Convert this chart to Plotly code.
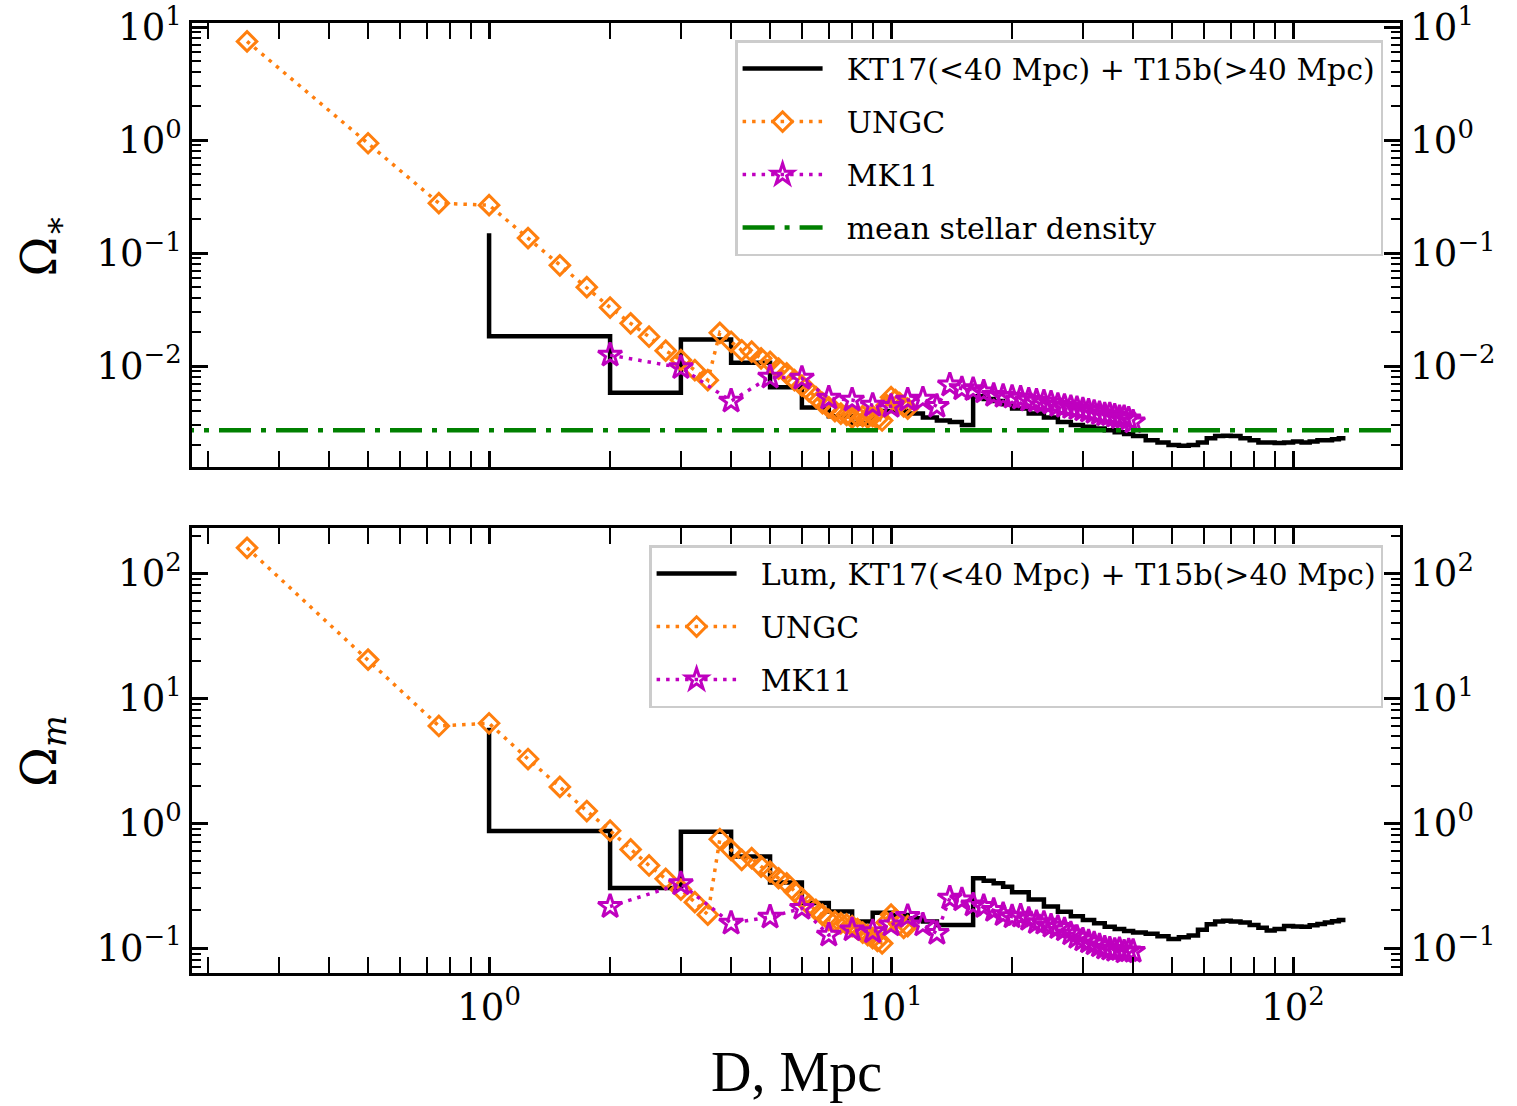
import plotly.graph_objects as go

# ---------------- data ----------------
# UNGC, sampled in distance D [Mpc]
UNGC_D = [0.25, 0.5, 0.75, 1.0, 1.25, 1.5, 1.75, 2.0, 2.25, 2.5, 2.75, 3.0, 3.25, 3.5,
          3.75, 4.0, 4.25, 4.5, 4.75, 5.0, 5.25, 5.5, 5.75, 6.0, 6.25, 6.5, 6.75, 7.0,
          7.25, 7.5, 7.75, 8.0, 8.25, 8.5, 8.75, 9.0, 9.25, 9.5, 9.75, 10.0, 10.25, 10.5,
          10.75, 11.0]
UNGC_OMEGA_STAR = [7.5, 0.94, 0.277, 0.266, 0.136, 0.078, 0.050, 0.033, 0.0239, 0.0182,
                   0.0137, 0.0113, 0.0092, 0.0075,
                   0.0197, 0.0164, 0.0138, 0.0134, 0.0117, 0.0109, 0.0095, 0.0086, 0.0075,
                   0.0067, 0.0060, 0.0053, 0.0047, 0.0043, 0.0040, 0.0038, 0.0037, 0.0035,
                   0.0036, 0.0036, 0.0035, 0.0036, 0.0034, 0.0033, 0.0045, 0.0053, 0.0050,
                   0.0047, 0.0044, 0.0042]
UNGC_OMEGA_M = [160.0, 20.4, 6.0, 6.3, 3.26, 1.95, 1.25, 0.87, 0.616, 0.458, 0.358, 0.294,
                0.233, 0.185,
                0.744, 0.611, 0.508, 0.525, 0.449, 0.409, 0.362, 0.33, 0.283, 0.25, 0.221,
                0.202, 0.184, 0.168, 0.163, 0.158, 0.155, 0.150, 0.142, 0.133, 0.127,
                0.120, 0.114, 0.109, 0.160, 0.185, 0.170, 0.155, 0.145, 0.150]

# MK11, one point per Mpc
MK11_D = [2, 3, 4, 5, 6, 7, 8, 9, 10, 11, 12, 13, 14, 15, 16, 17, 18, 19, 20, 21, 22, 23,
          24, 25, 26, 27, 28, 29, 30, 31, 32, 33, 34, 35, 36, 37, 38, 39, 40]
MK11_OMEGA_STAR = [0.0125, 0.0097, 0.0049, 0.0080, 0.0078, 0.0052, 0.0050, 0.0045, 0.0044,
                   0.0050, 0.0051, 0.0044, 0.0068, 0.0063, 0.0062, 0.0059, 0.0055, 0.0054,
                   0.0053, 0.0052, 0.0050, 0.0049, 0.0048, 0.0047, 0.0045, 0.0044, 0.0043,
                   0.0042, 0.0041, 0.0040, 0.0039, 0.0038, 0.0037, 0.0037, 0.0036, 0.0035,
                   0.0035, 0.0034, 0.0032]
MK11_OMEGA_M = [0.215, 0.327, 0.158, 0.177, 0.208, 0.127, 0.140, 0.135, 0.153, 0.179, 0.153,
                0.131, 0.251, 0.243, 0.221, 0.215, 0.200, 0.185, 0.178, 0.180, 0.170, 0.160,
                0.158, 0.150, 0.146, 0.140, 0.130, 0.122, 0.116, 0.112, 0.108, 0.104, 0.100,
                0.098, 0.096, 0.097, 0.093, 0.095, 0.094]

# KT17 (<40 Mpc) + T15b (>40 Mpc): value of each bin, keyed by the bin's outer edge D
KT_D = [1, 2, 3, 4, 5, 6, 7, 8, 9, 10, 11, 12, 13, 14, 15, 16, 17, 18, 19, 20, 22, 24, 26,
        28, 30, 32, 34, 36, 38, 40, 43, 46, 49, 52, 55, 58, 61, 64, 67, 70, 74, 78, 82, 86,
        90, 95, 100, 105, 110, 115, 120, 125, 130, 135]
KT_OMEGA_STAR = [0.15, 0.0184, 0.0058, 0.0172, 0.0107, 0.0065, 0.0043, 0.0036, 0.0031,
                 0.0040, 0.0040, 0.0038, 0.0035, 0.0033, 0.0032, 0.0030, 0.0054, 0.0051,
                 0.0049, 0.0046, 0.0042, 0.0038, 0.0035, 0.0032, 0.0030, 0.0029, 0.0028,
                 0.0027, 0.0026, 0.0025, 0.0024, 0.0022, 0.0021, 0.0020, 0.00197, 0.0020,
                 0.0021, 0.0023, 0.0024, 0.00242, 0.0024, 0.0023, 0.0022, 0.0021, 0.0021,
                 0.00208, 0.0021, 0.00215, 0.0021, 0.00215, 0.0022, 0.0022, 0.00225, 0.0023]
KT_OMEGA_M = [5.8, 0.865, 0.303, 0.855, 0.54, 0.334, 0.229, 0.196, 0.163, 0.192, 0.184,
              0.173, 0.163, 0.153, 0.153, 0.153, 0.362, 0.345, 0.33, 0.31, 0.28, 0.245,
              0.215, 0.195, 0.180, 0.168, 0.158, 0.148, 0.142, 0.137, 0.133, 0.130, 0.124,
              0.118, 0.122, 0.126, 0.140, 0.155, 0.163, 0.165, 0.163, 0.160, 0.153, 0.145,
              0.138, 0.142, 0.150, 0.149, 0.148, 0.152, 0.156, 0.160, 0.164, 0.168]

MEAN_STELLAR_DENSITY = 0.0027

# tick labels
X_TICKVALS = [1, 10, 100]
X_TICKTEXT = ["10<sup>0</sup>", "10<sup>1</sup>", "10<sup>2</sup>"]
Y1_TICKVALS = [0.01, 0.1, 1, 10]
Y1_TICKTEXT = ["10<sup>−2</sup>", "10<sup>−1</sup>", "10<sup>0</sup>", "10<sup>1</sup>"]
Y2_TICKVALS = [0.1, 1, 10, 100]
Y2_TICKTEXT = ["10<sup>−1</sup>", "10<sup>0</sup>", "10<sup>1</sup>", "10<sup>2</sup>"]

# ---------------- layout constants ----------------
X_RANGE = [-0.739, 2.266]
Y1_RANGE = [-2.894, 1.038]
Y2_RANGE = [-1.2, 2.36]

ORANGE = "#ff7f0e"
MAGENTA = "#bf00bf"
GREEN = "#008000"
SERIF = "DejaVu Serif"
PAD = "\u00a0\u00a0"  # gap between legend handle and label


def minor_vals(e0, e1):
    return [k * 10.0 ** e for e in range(e0, e1 + 1) for k in range(2, 10)]


X_MINOR = minor_vals(-1, 2)
Y1_MINOR = minor_vals(-3, 1)
Y2_MINOR = minor_vals(-2, 2)

fig = go.Figure()


def add_panel(xa, ya, kt_y, ungc_y, mk_y, kt_name, legend_id, with_mean):
    g = legend_id
    fig.add_trace(go.Scatter(
        x=KT_D, y=kt_y, mode="lines", name=PAD + kt_name,
        line=dict(color="black", width=4.5, shape="vh"),
        xaxis=xa, yaxis=ya, legend=legend_id, legendgroup=g + "a"))
    fig.add_trace(go.Scatter(
        x=UNGC_D, y=ungc_y, mode="lines+markers", name=PAD + "UNGC",
        line=dict(color=ORANGE, width=3.5, dash="3.5px,6px"),
        marker=dict(symbol="diamond-open", size=15, color=ORANGE,
                    line=dict(width=3, color=ORANGE)),
        xaxis=xa, yaxis=ya, legend=legend_id, legendgroup=g + "b"))
    fig.add_trace(go.Scatter(
        x=MK11_D, y=mk_y, mode="lines+markers", name=PAD + "MK11",
        line=dict(color=MAGENTA, width=3.5, dash="3.5px,6px"),
        marker=dict(symbol="star-open", size=18, color=MAGENTA,
                    line=dict(width=3, color=MAGENTA)),
        xaxis=xa, yaxis=ya, legend=legend_id, legendgroup=g + "c"))
    if with_mean:
        fig.add_trace(go.Scatter(
            x=[10 ** (X_RANGE[0] - 0.5), 10 ** (X_RANGE[1] + 0.5)],
            y=[MEAN_STELLAR_DENSITY, MEAN_STELLAR_DENSITY],
            mode="lines", name=PAD + "mean stellar density",
            line=dict(color=GREEN, width=4.5, dash="32px,10px,5px,10px"),
            xaxis=xa, yaxis=ya, legend=legend_id, legendgroup=g + "d"))


add_panel("x", "y", KT_OMEGA_STAR, UNGC_OMEGA_STAR, MK11_OMEGA_STAR,
          "KT17(<40 Mpc) + T15b(>40 Mpc)", "legend", True)
add_panel("x2", "y2", KT_OMEGA_M, UNGC_OMEGA_M, MK11_OMEGA_M,
          "Lum, KT17(<40 Mpc) + T15b(>40 Mpc)", "legend2", False)

# invisible traces to activate the right-hand axes
fig.add_trace(go.Scatter(x=[None], y=[None], xaxis="x", yaxis="y3",
                         showlegend=False, hoverinfo="skip"))
fig.add_trace(go.Scatter(x=[None], y=[None], xaxis="x2", yaxis="y4",
                         showlegend=False, hoverinfo="skip"))

tickfont = dict(family=SERIF, size=37, color="black")
major = dict(ticks="inside", ticklen=16, tickwidth=2.5, tickcolor="black",
             showline=True, linewidth=2.8, linecolor="black", automargin=False,
             ticklabeloverflow="allow",
             showgrid=False, zeroline=False, type="log", tickfont=tickfont)


def minor(vals):
    return dict(ticks="inside", ticklen=9, tickwidth=2.2, tickcolor="black",
                tickmode="array", tickvals=vals, showgrid=False)


TOP_DOMAIN = [0.5326, 1.0]
BOT_DOMAIN = [0.0, 0.468]

legend_common = dict(xanchor="right", yanchor="top", bgcolor="rgba(255,255,255,0.8)",
                     bordercolor="#cccccc", borderwidth=2.5,
                     font=dict(family=SERIF, size=30, color="black"),
                     itemwidth=80, tracegroupgap=11)

fig.update_layout(
    width=1517, height=1106,
    margin=dict(l=192, r=117, t=23, b=133, autoexpand=False),
    paper_bgcolor="white", plot_bgcolor="white",
    xaxis=dict(**major, range=X_RANGE, domain=[0, 1], anchor="y",
               tickmode="array", tickvals=X_TICKVALS, showticklabels=False,
               mirror="allticks", minor=minor(X_MINOR)),
    xaxis2=dict(**major, range=X_RANGE, domain=[0, 1], anchor="y2", matches="x",
                tickmode="array", tickvals=X_TICKVALS, ticktext=X_TICKTEXT,
                mirror="allticks", minor=minor(X_MINOR)),
    yaxis=dict(**major, range=Y1_RANGE, domain=TOP_DOMAIN, anchor="x",
               tickmode="array", tickvals=Y1_TICKVALS, ticktext=Y1_TICKTEXT,
               minor=minor(Y1_MINOR)),
    yaxis3=dict(**major, range=Y1_RANGE, overlaying="y", side="right", anchor="x",
                tickmode="array", tickvals=Y1_TICKVALS, ticktext=Y1_TICKTEXT,
                minor=minor(Y1_MINOR)),
    yaxis2=dict(**major, range=Y2_RANGE, domain=BOT_DOMAIN, anchor="x2",
                tickmode="array", tickvals=Y2_TICKVALS, ticktext=Y2_TICKTEXT,
                minor=minor(Y2_MINOR)),
    yaxis4=dict(**major, range=Y2_RANGE, overlaying="y2", side="right", anchor="x2",
                tickmode="array", tickvals=Y2_TICKVALS, ticktext=Y2_TICKTEXT,
                minor=minor(Y2_MINOR)),
    legend=dict(**legend_common, x=0.986, y=0.982),
    legend2=dict(**legend_common, x=0.986, y=0.4505),
    showlegend=True,
    annotations=[
        dict(text="Ω<sub>∗</sub>", xref="paper", yref="paper", x=-0.124, y=0.766,
             xanchor="center", yanchor="middle", textangle=-90, showarrow=False,
             font=dict(family=SERIF, size=48, color="black")),
        dict(text="Ω<sub><i>m</i></sub>", xref="paper", yref="paper", x=-0.124, y=0.234,
             xanchor="center", yanchor="middle", textangle=-90, showarrow=False,
             font=dict(family=SERIF, size=48, color="black")),
        dict(text="D, Mpc", xref="paper", yref="paper", x=0.5, y=-0.104,
             xanchor="center", yanchor="middle", showarrow=False,
             font=dict(family="Liberation Serif", size=56, color="black")),
    ],
)

fig.write_html("out.html")
